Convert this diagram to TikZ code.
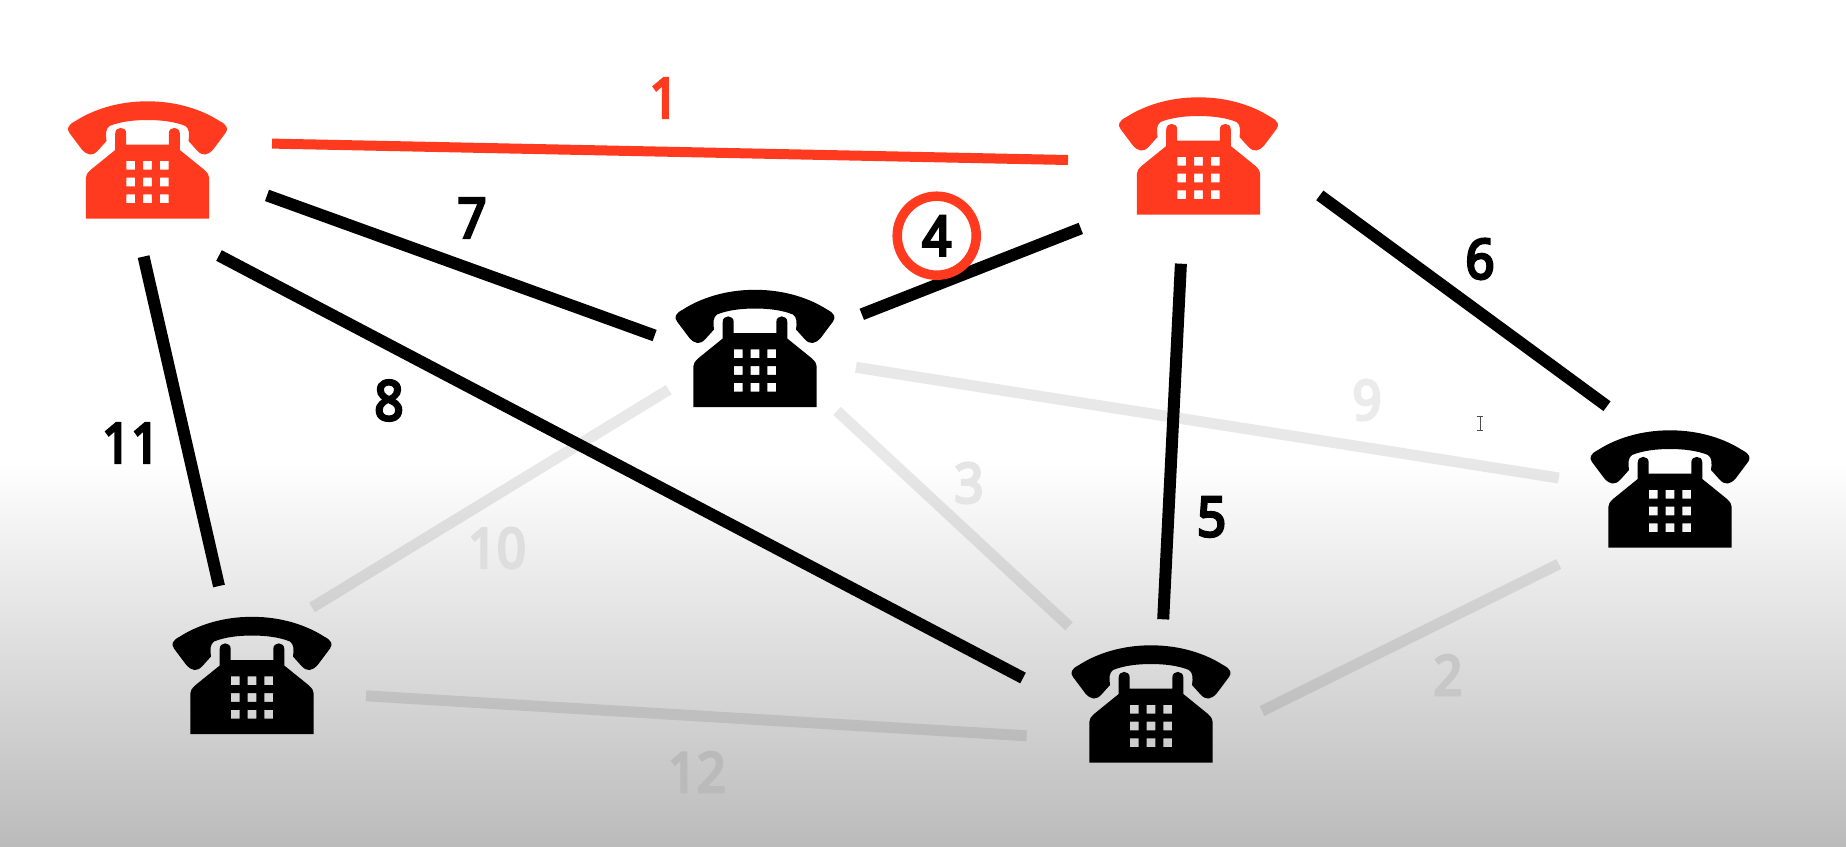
\documentclass[tikz,border=0pt]{standalone}
\usepackage{fontspec}
\newfontfamily\numfont{Noto Sans}[FakeBold=5,FakeStretch=.92]
\definecolor{hotclr}{HTML}{FF3A1F}
\definecolor{inkclr}{HTML}{000000}
\definecolor{floorclr}{HTML}{BBBBBB}
\tikzset{
  link/.style={line width=12pt, inkclr},
  hotlink/.style={line width=10pt, hotclr},
  fadedlink/.style={line width=11pt, inkclr, opacity=.09},
  numlabel/.style={font=\numfont\fontsize{55}{55}\selectfont, inner sep=0pt, inkclr},
  phonebox/.style={minimum width=158pt, minimum height=118pt, inner sep=0pt},
  pics/phone/.style={code={
    % handset
    \fill (0,-58.7) .. controls (-30,-58.7) and (-55,-50) .. (-72,-39)
      .. controls (-80,-35) and (-81,-31) .. (-78,-27) -- (-66,-11)
      .. controls (-60,-4) and (-55,-4) .. (-50,-9) -- (-41,-19)
      .. controls (-42,-26) and (-42,-31) .. (-38,-34)
      .. controls (-27,-38.5) and (-13,-40) .. (0,-40)
      .. controls (13,-40) and (27,-38.5) .. (38,-34)
      .. controls (42,-31) and (42,-26) .. (41,-19) -- (50,-9)
      .. controls (55,-4) and (60,-4) .. (66,-11) -- (78,-27)
      .. controls (81,-31) and (80,-35) .. (72,-39)
      .. controls (55,-50) and (30,-58.7) .. (0,-58.7) -- cycle;
    % body with the keypad cut out
    \fill[even odd rule] (-61.7,58.7) -- (-61.7,18) .. controls (-61.7,15) and (-60,13) .. (-57,10)
      -- (-32.3,-10) -- (-32.3,-26.5) .. controls (-32.3,-34) and (-21.3,-34) .. (-21.3,-26.5)
      -- (-21.3,-15.3) -- (21.3,-15.3) -- (21.3,-26.5)
      .. controls (21.3,-34) and (32.3,-34) .. (32.3,-26.5) -- (32.3,-10)
      -- (57,10) .. controls (60,13) and (61.7,15) .. (61.7,18) -- (61.7,58.7) -- cycle
      foreach \kx in {-16.7,0,16.7} { foreach \ky in {5.3,22,38.7} {
        (\kx-4.4,\ky-4.4) rectangle (\kx+4.4,\ky+4.4) } };
  }}
}

\begin{document}
\begin{tikzpicture}[x=1pt, y=-1pt]
\useasboundingbox (0,0) rectangle (1846,846);

% --- backdrop ---
\fill[white] (0,0) rectangle (1846,846);
\shade[top color=white, bottom color=floorclr] (0,460) rectangle (1846,846);

% --- the phones ---
\foreach \n/\x/\y/\c in {tl/147.5/160/hotclr, tr/1198.5/156/hotclr, mid/755/348.5/inkclr,
    rt/1670/489/inkclr, bl/252/675.5/inkclr, bt/1151/704/inkclr} {
  \node[phonebox] (\n) at (\x,\y) {};
  \pic[fill=\c] at (\n.center) {phone};
}

% --- faded links ---
\draw[fadedlink] ([shift={(100.9,18.8)}]mid.center) -- ([shift={(-111.2,-11)}]rt.center);
\draw[fadedlink] ([shift={(82,62.4)}]mid.center) -- ([shift={(-82,-77.7)}]bt.center);
\draw[fadedlink] ([shift={(-86.3,41.2)}]mid.center) -- ([shift={(60,-68)}]bl.center);
\draw[fadedlink] ([shift={(114,20.3)}]bl.center) -- ([shift={(-124.4,31.8)}]bt.center);
\draw[fadedlink] ([shift={(-111.2,75)}]rt.center) -- ([shift={(111,7)}]bt.center);

% --- live links ---
\draw[hotlink] ([shift={(124.5,-16.4)}]tl.center) -- ([shift={(-130.5,4)}]tr.center);
\draw[link] ([shift={(119.5,35.4)}]tl.center) -- ([shift={(-100.4,-13)}]mid.center);
\draw[link] ([shift={(71.5,95.5)}]tl.center) -- ([shift={(-128,-26)}]bt.center);
\draw[link] ([shift={(-3.9,96.6)}]tl.center) -- ([shift={(-33,-89.5)}]bl.center);
\draw[link] ([shift={(-117.7,72.4)}]tr.center) -- ([shift={(106.8,-34.2)}]mid.center);
\draw[link] ([shift={(-17.6,107.7)}]tr.center) -- ([shift={(12.2,-84.7)}]bt.center);
\draw[link] ([shift={(121.3,39.4)}]tr.center) -- ([shift={(-63,-82.8)}]rt.center);

% --- labels ---
\node[numlabel, hotclr] (w1) at (664,98) {1};
\foreach \t/\x/\y in {7/472/218, 6/1480/259, 11/131/443, 8/389/400.5, 5/1211.6/517}
  \node[numlabel] (w\t) at (\x,\y) {\t};
% faded ones get darker going down the backdrop
\foreach \t/\x/\y/\k in {9/1367/400/8, 3/969/483/10, 10/497/548/13, 2/1448/675/22, 12/697/772/27}
  \node[numlabel, text=black!\k] (w\t) at (\x,\y) {\t};

% --- the circled weight ---
\node[circle, draw=hotclr, line width=9.5pt, minimum size=79pt, inner sep=0pt] (ring4) at (936.7,235.7) {};
\node[numlabel] (w4) at (ring4.center) {4};

% --- text cursor ---
\draw[inkclr!70, line width=1pt] (1477,416) -- (1483,416) (1480,416) -- (1480,430) (1477,430) -- (1483,430);

\end{tikzpicture}
\end{document}
